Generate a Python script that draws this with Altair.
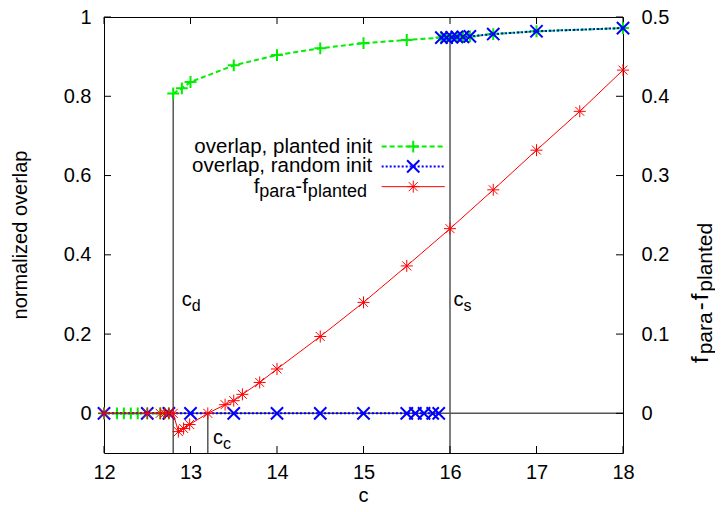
import altair as alt
import pandas as pd

FONT = "Liberation Sans"

# ---------------- data ----------------
green_zero_c = [12, 12.15, 12.23, 12.31, 12.39, 12.5, 12.65, 12.7, 12.75]
green_zero_v = [0, 0, 0, 0, 0, 0, 0, 0, 0]
green_up_c = [12.8, 12.9, 13.0, 13.5, 14, 14.5, 15, 15.5, 15.9, 15.96, 16.02,
              16.08, 16.15, 16.23, 16.5, 17, 18]
green_up_v = [0.807, 0.82, 0.836, 0.878, 0.904, 0.921, 0.934, 0.942, 0.948,
              0.948, 0.949, 0.95, 0.95, 0.951, 0.957, 0.964, 0.972]

blue_zero_c = [12, 12.5, 12.75, 13, 13.5, 14, 14.5, 15, 15.5, 15.6, 15.7, 15.8, 15.87]
blue_zero_v = [0, 0, 0, 0, 0, 0, 0, 0, 0, 0, 0, 0, 0]
blue_up_c = [15.9, 15.96, 16.02, 16.08, 16.15, 16.23, 16.5, 17, 18]
blue_up_v = [0.948, 0.948, 0.949, 0.95, 0.95, 0.951, 0.957, 0.964, 0.972]

red_c = [12, 12.5, 12.65, 12.7, 12.75, 12.8, 12.86, 12.92, 12.99, 13.2, 13.4,
         13.5, 13.6, 13.8, 14, 14.5, 15, 15.5, 16, 16.5, 17, 17.5, 18]
red_v = [0, 0, 0, 0, 0, 0, -0.023, -0.019, -0.014, 0, 0.011, 0.016, 0.024,
         0.039, 0.056, 0.097, 0.14, 0.186, 0.233, 0.282, 0.332, 0.381, 0.433]

# threshold lines c_d, c_s, c_c
vline_c = [12.8, 16.0, 13.2]
vline_top = [0.807, 0.95, 0.0]
vline_name = ["d", "s", "c"]

x_ticks = [12, 13, 14, 15, 16, 17, 18]
y_left_ticks = [0, 0.2, 0.4, 0.6, 0.8, 1]
y_right_ticks = [0, 0.1, 0.2, 0.3, 0.4, 0.5]

legend_labels = ["overlap, planted init", "overlap, random init", "f_para-f_planted"]

# ---------------- layout / style constants ----------------
W, H = 519, 436
GREEN, BLUE, RED, GRAY = "#00ee00", "#0000ff", "#ff0000", "#555555"
PLUS = "M-1,0L1,0M0,-1L0,1"
CROSS = "M-1,-1L1,1M-1,1L1,-1"
STAR = "M-1,0L1,0M0,-1L0,1M-0.75,-0.75L0.75,0.75M-0.75,0.75L0.75,-0.75"
X_MIN, X_MAX = 12, 18
YL = [-0.1, 1]
YR = [-0.05, 0.5]
LEG_ROWS = [0.673, 0.623, 0.572]
LEG_TEXT_C = 15.1
LEG_LINE = [15.21, 15.94]
LEG_MARK_C = 15.575

x_scale = alt.Scale(domain=[X_MIN, X_MAX], nice=False, zero=False)
yl_scale = alt.Scale(domain=YL, nice=False, zero=False)
yr_scale = alt.Scale(domain=YR, nice=False, zero=False)

common_axis = dict(ticks=False, tickSize=0, domain=False, grid=False, title=None,
                   labelFont=FONT, labelFontSize=20, labelColor="black",
                   labelFlush=False, labelOverlap=False)

X = alt.X("c:Q", scale=x_scale,
          axis=alt.Axis(values=x_ticks, format="d", labelPadding=9, **common_axis))
YLft = alt.Y("v:Q", scale=yl_scale,
             axis=alt.Axis(values=y_left_ticks, format="~g", orient="left",
                           labelPadding=13, **common_axis))
YRgt = alt.Y("v:Q", scale=yr_scale,
             axis=alt.Axis(values=y_right_ticks, format="~g", orient="right",
                           labelPadding=18, **common_axis))


def df(**cols):
    return pd.DataFrame(cols)


# ---------- left (overlap) layer ----------
green_df = pd.concat([df(c=green_zero_c, v=green_zero_v, seg="a"),
                      df(c=green_up_c, v=green_up_v, seg="b")])
blue_df = pd.concat([df(c=blue_zero_c, v=blue_zero_v, seg="a"),
                     df(c=blue_up_c, v=blue_up_v, seg="b")])
vl_df = df(c=vline_c, v=vline_top, v2=[YL[0]] * len(vline_c), name=vline_name)

zero_rule = alt.Chart(df(c=[X_MIN], v=[0])).mark_rule(
    color=GRAY, strokeWidth=1.5).encode(y=YLft)
vrules = alt.Chart(vl_df).mark_rule(color=GRAY, strokeWidth=1.5).encode(
    x=X, y=YLft, y2="v2:Q")

green_line = alt.Chart(green_df).mark_line(
    color=GREEN, strokeWidth=2, strokeDash=[5, 3]).encode(x=X, y=YLft, detail="seg:N")
green_pts = alt.Chart(green_df).mark_point(
    shape=PLUS, size=140, filled=False, strokeWidth=2, color=GREEN, opacity=1
).encode(x=X, y=YLft)
blue_line = alt.Chart(blue_df).mark_line(
    color=BLUE, strokeWidth=2, strokeDash=[2, 2]).encode(x=X, y=YLft, detail="seg:N")
blue_pts = alt.Chart(blue_df).mark_point(
    shape=CROSS, size=150, filled=False, strokeWidth=2, color=BLUE, opacity=1
).encode(x=X, y=YLft)

# inner ticks
xt_df = df(c=x_ticks)
xt_bottom = alt.Chart(xt_df).mark_rule(color="black").encode(
    x=X, y=alt.value(H), y2=alt.value(H - 7))
xt_top = alt.Chart(xt_df).mark_rule(color="black").encode(
    x=X, y=alt.value(0), y2=alt.value(7))
ylt = alt.Chart(df(v=y_left_ticks)).mark_rule(color="black").encode(
    y=YLft, x=alt.value(0), x2=alt.value(7))

# threshold labels c_d, c_s, c_c
ann_df = df(c=[12.9, 16.04, 13.26], v=[0.27, 0.27, -0.078], name=vline_name)
ann_main = alt.Chart(ann_df).mark_text(
    text="c", align="left", baseline="alphabetic", font=FONT, fontSize=20,
    color="black").encode(x=X, y=YLft)
ann_sub = alt.Chart(ann_df).mark_text(
    align="left", baseline="alphabetic", font=FONT, fontSize=16, dx=10, dy=5,
    color="black").encode(x=X, y=YLft, text="name:N")

# legend
leg_text = alt.Chart(df(c=[LEG_TEXT_C] * 2, v=LEG_ROWS[:2], label=legend_labels[:2])
                     ).mark_text(align="right", baseline="middle", font=FONT,
                                 fontSize=20.5, color="black").encode(
    x=X, y=YLft, text="label:N")


def leg_sample(row, color, dash, width, shape, size, sw):
    line = alt.Chart(df(c=LEG_LINE, v=[LEG_ROWS[row]] * 2)).mark_line(
        color=color, strokeWidth=width, **({"strokeDash": dash} if dash else {})
    ).encode(x=X, y=YLft)
    pt = alt.Chart(df(c=[LEG_MARK_C], v=[LEG_ROWS[row]])).mark_point(
        shape=shape, size=size, filled=False, strokeWidth=sw, color=color, opacity=1
    ).encode(x=X, y=YLft)
    return [line, pt]


def composed(pieces, enc, angle=None, base="middle"):
    """pieces: list of (text, dx, dy, size)"""
    layers = []
    for txt, dx, dy, size in pieces:
        kw = dict(text=txt, align="left", baseline=base, font=FONT, fontSize=size,
                  dx=dx, dy=dy, color="black")
        if angle is not None:
            kw["angle"] = angle
        layers.append(alt.Chart(enc[0]).mark_text(**kw).encode(**enc[1]))
    return layers


def fpieces(main, sub, sub_dy, gap=0.0):
    wf = 0.278 * main
    wpara = 2.0 * sub
    wdash = 0.333 * main
    return [("f", 0, 0, main),
            ("para", wf + gap, sub_dy, sub),
            ("-", wf + wpara + 2 * gap, 0, main),
            ("f", wf + wpara + wdash + 3 * gap, 0, main),
            ("planted", 2 * wf + wpara + wdash + 4 * gap, sub_dy, sub)]


leg_red_text = composed(
    fpieces(20.5, 18, 5),
    (df(c=[13.73], v=[LEG_ROWS[2]]), dict(x=X, y=YLft)))

legend_layers = [leg_text]
legend_layers += leg_sample(0, GREEN, [5, 3], 2, PLUS, 140, 2)
legend_layers += leg_sample(1, BLUE, [2, 2], 2, CROSS, 150, 2)
legend_layers += leg_sample(2, RED, None, 1, STAR, 144, 1)
legend_layers += leg_red_text

# axis titles
left_title = alt.Chart(df(c=[0])).mark_text(
    text="normalized overlap", angle=270, align="center", baseline="alphabetic",
    font=FONT, fontSize=20, color="black").encode(x=alt.value(-77), y=alt.value(218))
x_title = alt.Chart(df(c=[0])).mark_text(
    text="c", align="center", baseline="alphabetic", font=FONT, fontSize=20,
    color="black").encode(x=alt.value(W / 2), y=alt.value(485))

left = alt.layer(zero_rule, vrules, xt_bottom, xt_top, ylt,
                 green_line, green_pts, blue_line, blue_pts,
                 ann_main, ann_sub, *legend_layers, left_title, x_title)

# ---------- right (f_para - f_planted) layer ----------
red_df = df(c=red_c, v=red_v)
red_line = alt.Chart(red_df).mark_line(color=RED, strokeWidth=1).encode(x=X, y=YRgt)
red_pts = alt.Chart(red_df).mark_point(
    shape=STAR, size=144, filled=False, strokeWidth=1, color=RED, opacity=1
).encode(x=X, y=YRgt)
yrt = alt.Chart(df(v=y_right_ticks)).mark_rule(color="black").encode(
    y=YRgt, x=alt.value(W), x2=alt.value(W - 7))
right_title = composed(
    fpieces(24, 21, 4, gap=2),
    (df(c=[0]), dict(x=alt.value(604), y=alt.value(346))),
    angle=270, base="alphabetic")

right = alt.layer(red_line, red_pts, yrt, *right_title)

chart = alt.layer(left, right).resolve_scale(y="independent").properties(
    width=W, height=H,
    padding={"left": 96, "top": 9, "right": 92, "bottom": 49},
    autosize=alt.AutoSizeParams(type="none"),
).configure_view(stroke="black", strokeWidth=1)

chart.save("out.html", embed_options={"renderer": "svg", "actions": False})
